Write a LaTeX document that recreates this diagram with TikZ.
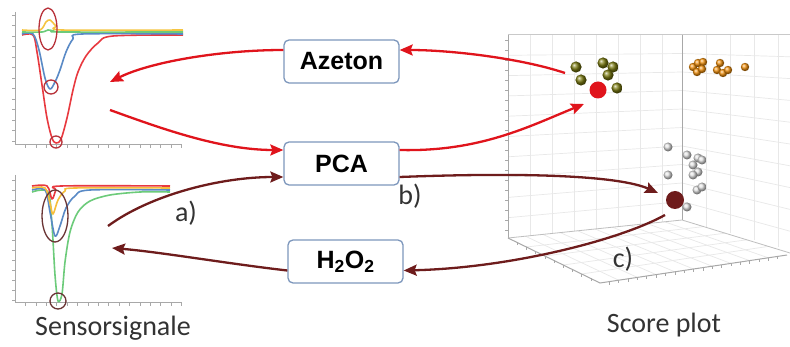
\documentclass[tikz,border=0pt]{standalone}
\usepackage{fontspec}
\setmainfont{Carlito}
\newfontfamily\boxfont{Liberation Sans}
\usetikzlibrary{arrows.meta}
\definecolor{ared}{HTML}{E0141C}
\definecolor{adark}{HTML}{6E1C1C}
\definecolor{boxline}{HTML}{7D97BC}
\definecolor{syellow}{HTML}{F5C542}
\definecolor{sgreen}{HTML}{6CCB7A}
\definecolor{sblue}{HTML}{5A8AC6}
\definecolor{sred}{HTML}{E8393F}
\definecolor{sorange}{HTML}{F08A3A}
\definecolor{gridc}{HTML}{E8E8E8}
\definecolor{axisgray}{HTML}{A8A8A8}
\definecolor{circred}{HTML}{B8323A}
\definecolor{circdark}{HTML}{6A3434}
\definecolor{olivec}{HTML}{7A7A10}
\definecolor{orangec}{HTML}{F0900E}
\definecolor{labtext}{HTML}{333333}
\begin{document}
\begin{tikzpicture}[x=1pt,y=-1pt,
  box/.style={draw=boxline, line width=1.3pt, rounded corners=5pt, fill=white,
    minimum width=115pt, minimum height=43pt, inner sep=0pt,
    font=\boxfont\bfseries\fontsize{25}{25}\selectfont},
  conn/.style={line width=2.3pt, -{Stealth[length=13pt,width=11pt,inset=2pt]}},
  redc/.style={conn, draw=ared, color=ared},
  darkc/.style={conn, draw=adark, color=adark},
  sig/.style={line width=1.6pt, line join=round},
  lab/.style={font=\fontsize{28}{28}\selectfont, text=labtext, inner sep=0pt},
  gridl/.style={draw=gridc, line width=0.7pt},
  axl/.style={draw=axisgray, line width=1pt},
  tick/.style={draw=axisgray, line width=0.6pt},
  olive/.style={ball color=olivec},
  orng/.style={ball color=orangec},
  gry/.style={ball color=gray!25}]
\useasboundingbox (0,0) rectangle (790,347);
\fill[white] (0,0) rectangle (790,347);

% ---------- score plot (3D) ----------
\begin{scope}
\clip (0,0) rectangle (790,347);
% left wall grid
\foreach \i in {1,...,9} \draw[gridl] (508,{35+\i*20.3}) -- (682,{35+\i*18.5});
\foreach \x in {530,552,...,672} \draw[gridl] (\x,35) -- (\x,{238-(\x-508)*18/174});
% right wall grid
\foreach \i in {1,...,9} \draw[gridl] (682,{35+\i*18.5}) -- (790,{35+\i*21.8});
\foreach \x in {706,730,754,778} \draw[gridl] (\x,35) -- (\x,{220+(\x-682)*30/108});
% floor grid
\foreach \t in {0.1,0.2,...,0.95} \draw[gridl] ({508+174*\t},{238-18*\t}) -- ({600+187*\t},{283-28*\t});
\foreach \s in {0.2,0.4,0.6,0.8} \draw[gridl] ({508+92*\s},{238+45*\s}) -- ({682+108*\s},{220+33*\s});
% frame
\draw[axl] (508,35) -- (508,238);
\draw[draw=gridc!70!gray, line width=1pt] (508,35) -- (790,35);
\draw[axl] (682,35) -- (682,220);
\draw[draw=gridc!60!gray, line width=0.8pt] (508,238) -- (682,220) -- (790,253);
\draw[axl] (508,238) -- (600,283) -- (787,255);
\foreach \i in {0,...,19} \draw[tick] (505,{40+\i*10}) -- (508,{40+\i*10});
\foreach \s in {0.1,0.2,...,0.95} \draw[tick] ({508+92*\s},{238+45*\s}) -- ({508+92*\s},{241+45*\s});
\foreach \t in {0.05,0.1,...,0.97} \draw[tick] ({600+187*\t},{283-28*\t}) -- ({600+187*\t},{286-28*\t});
\end{scope}

% olive cluster + red point
\foreach \p in {(576,67),(581,80),(603,63),(613,67),(608,75),(617,88)}
  \shade[olive] \p circle (5.6pt);
\fill[ared] (598,90) circle (8.5pt);
\coordinate (redpt) at (598,90);
% orange cluster
\foreach \p in {(693,67),(698,63),(703,62),(697,72),(702,69),(717,70),(720,63),(723,73),(728,70),(745,67)}
  \shade[orng] \p circle (4.2pt);
% gray cluster + dark point
\foreach \p in {(668,147),(687,155),(698,158),(702,160),(693,165),(698,172),(693,175),(668,175),(697,190),(702,187),(687,207)}
  \shade[gry] \p circle (4.5pt);
\fill[adark] (675,200) circle (9pt);
\coordinate (darkpt) at (675,200);

% ---------- sensor signals top ----------
\draw[axl] (15,12) -- (15,145) -- (182,145);
\foreach \i in {0,...,12} \draw[tick] (12,{15+\i*10.5}) -- (15,{15+\i*10.5});
\foreach \i in {1,...,16} \draw[tick] ({15+\i*10.4},145) -- ({15+\i*10.4},148);
\draw[sig, sred] plot[smooth, tension=0.55] coordinates {(22,35) (33,35) (37,52) (42,85) (47,118) (52,138) (56,143) (61,139) (67,118) (73,90) (78,72) (86,56) (98,43) (113,36) (183,35)};
\draw[sig, sblue] plot[smooth, tension=0.55] coordinates {(22,34) (33,34) (39,50) (45,78) (50,89) (55,82) (60,70) (66,52) (73,39) (82,34) (183,34)};
\draw[sig, sgreen] plot[smooth, tension=0.5] coordinates {(22,32) (42,32) (48,30) (54,31) (60,32) (183,32)};
\draw[sig, syellow] plot[smooth, tension=0.5] coordinates {(22,30) (40,30) (46,22) (50,20) (56,26) (62,30) (183,30)};
\draw[circred, line width=1.3pt] (48,29) ellipse [x radius=9pt, y radius=21pt];
\draw[circred, line width=1.3pt] (51,87) circle (7pt);
\draw[circred, line width=1.3pt] (56,142) circle (6pt);

% ---------- sensor signals bottom ----------
\draw[axl] (15,175) -- (15,303) -- (182,303);
\foreach \i in {0,...,12} \draw[tick] (12,{180+\i*10}) -- (15,{180+\i*10});
\foreach \i in {1,...,16} \draw[tick] ({15+\i*10.4},303) -- ({15+\i*10.4},306);
\draw[sig, sgreen] plot[smooth, tension=0.5] coordinates {(32,192) (48,192) (52,225) (55,275) (58,301) (62,294) (65,262) (70,232) (78,212) (90,201) (110,195) (140,192) (170,192)};
\draw[sig, sblue] plot[smooth, tension=0.55] coordinates {(32,190) (45,190) (50,212) (55,236) (60,226) (66,208) (75,196) (90,190) (170,190)};
\draw[sig, syellow!90!orange] plot[smooth, tension=0.55] coordinates {(32,188) (45,188) (50,203) (53,214) (58,200) (65,191) (75,188) (170,188)};
\draw[sig, sred] plot[smooth, tension=0.55] coordinates {(32,186) (47,186) (52,199) (56,190) (61,186) (170,186)};
\draw[circdark, line width=1.3pt] (55,216) ellipse [x radius=13pt, y radius=26pt];
\draw[circdark, line width=1.3pt] (58,301) circle (8pt);

% ---------- boxes ----------
\node[box] (az) at (341.5,61.5) {Azeton};
\node[box] (pca) at (341.5,163.5) {PCA};
\node[box] (h2o2) at (345.5,261.5) {H\textsubscript{2}O\textsubscript{2}};

% ---------- labels ----------
\node[lab] (lsens) at (113,328) {Sensorsignale};
\node[lab] (lscore) at (664,325) {Score plot};
\node[lab] (la) at (186,213) {a)};
\node[lab] (lb) at (410,196) {b)};
\node[lab] (lc) at (623,259) {c)};

% ---------- connector end points ----------
\coordinate (oliveout) at (565,73);
\coordinate (topin) at (110,82);
\coordinate (topout) at (110,110);
\coordinate (redin) at (584,104);
\coordinate (botout) at (108,226);
\coordinate (darkin) at (658,193);
\coordinate (darkout) at (665,215);
\coordinate (botin) at (112,248);

% ---------- red connectors ----------
\draw[redc] (oliveout) .. controls (520,58) and (450,50) .. ([yshift=11.5pt]az.east);
\draw[redc] ([yshift=11.5pt]az.west) .. controls (220,50) and (150,62) .. (topin);
\draw[redc] (topout) .. controls (160,128) and (220,150) .. ([yshift=13.5pt]pca.west);
\draw[redc] ([yshift=13.5pt]pca.east) .. controls (480,152) and (530,126) .. (redin);

% ---------- dark connectors ----------
\draw[darkc] (botout) .. controls (150,195) and (220,177) .. ([yshift=-13.5pt]pca.west);
\draw[darkc] ([yshift=-13.5pt]pca.east) .. controls (530,172) and (620,176) .. (darkin);
\draw[darkc] (darkout) .. controls (620,240) and (510,268) .. ([yshift=-9pt]h2o2.east);
\draw[darkc] ([yshift=-9pt]h2o2.west) .. controls (230,264) and (160,252) .. (botin);
\end{tikzpicture}
\end{document}
